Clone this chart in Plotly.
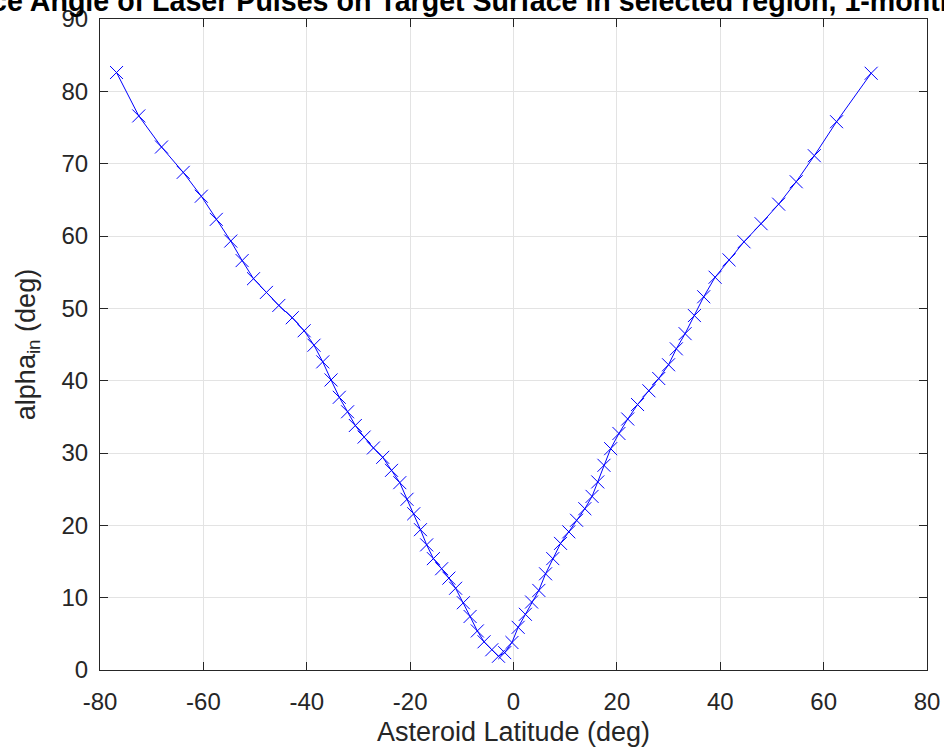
import plotly.graph_objects as go

latitude = [-76.8, -72.5, -68.1, -63.9, -60.4, -57.5, -54.7, -52.5, -50.3, -47.8,
            -45.4, -42.8, -40.5, -38.6, -36.9, -35.3, -33.7, -32.1, -30.6, -28.9,
            -27.1, -25.3, -23.6, -22.0, -20.6, -19.3, -18.0, -16.8, -15.5, -13.9,
            -12.5, -11.2, -9.7, -8.4, -7.0, -5.7, -4.2, -2.9, -1.7, -0.3,
            0.9, 2.3, 3.5, 4.9, 6.2, 7.6, 9.1, 10.7, 12.2, 13.8,
            15.2, 16.3, 17.5, 18.8, 20.4, 22.1, 24.0, 26.2, 28.1, 30.0,
            31.5, 33.2, 35.0, 36.8, 39.0, 41.7, 44.6, 47.9, 51.3, 54.7,
            58.2, 62.5, 69.2]
alpha_in = [82.6, 76.6, 72.3, 68.8, 65.5, 62.3, 59.3, 56.6, 54.1, 52.2,
            50.4, 48.7, 46.9, 44.9, 42.6, 40.1, 37.7, 35.7, 33.8, 32.2,
            30.7, 29.4, 27.6, 25.9, 23.6, 21.6, 19.4, 17.3, 15.4, 14.0,
            12.7, 11.3, 9.3, 7.4, 5.4, 3.9, 2.8, 1.9, 2.4, 3.8,
            5.9, 7.7, 9.4, 11.0, 13.3, 15.4, 17.5, 19.1, 20.7, 22.3,
            24.0, 26.0, 28.3, 30.6, 32.7, 34.7, 36.7, 38.6, 40.3, 42.2,
            44.4, 46.5, 49.0, 51.6, 54.3, 56.7, 59.2, 61.7, 64.4, 67.5,
            71.1, 75.8, 82.5]

x_ticks = [-80, -60, -40, -20, 0, 20, 40, 60, 80]
y_ticks = [0, 10, 20, 30, 40, 50, 60, 70, 80, 90]

title_text = "Incidence Angle of Laser Pulses on Target Surface in selected region, 1-month period"

FONT = "Liberation Sans, Arial, Helvetica, sans-serif"
TXT = "#262626"

fig = go.Figure()
fig.add_trace(go.Scatter(
    x=latitude, y=alpha_in, mode="lines+markers",
    line=dict(color="#0000ff", width=1),
    marker=dict(symbol="x-thin", size=13, color="#0000ff",
                line=dict(color="#0000ff", width=1)),
    showlegend=False,
))

axis_common = dict(
    showgrid=True, gridcolor="#e3e3e3", gridwidth=1,
    showline=True, linecolor=TXT, linewidth=1, mirror="ticks",
    ticks="inside", ticklen=8, tickcolor=TXT, tickwidth=1,
    tickfont=dict(family=FONT, size=24, color=TXT),
    zeroline=False, automargin=False,
)

fig.update_layout(
    width=944, height=749,
    margin=dict(l=100, r=17, t=19, b=79),
    paper_bgcolor="white", plot_bgcolor="white",
    font=dict(family=FONT, color=TXT),
    xaxis=dict(range=[-80, 80], tickvals=x_ticks, ticktext=[str(v) for v in x_ticks],
               title=dict(text="Asteroid Latitude (deg)", font=dict(size=27, family=FONT, color=TXT),
                          standoff=8),
               ticklabelstandoff=10,
               **axis_common),
    yaxis=dict(range=[0, 90], tickvals=y_ticks, ticktext=[str(v) for v in y_ticks],
               title=dict(text="alpha<sub>in</sub> (deg)", font=dict(size=27, family=FONT, color=TXT),
                          standoff=18),
               ticklabelstandoff=6,
               **axis_common),
    annotations=[dict(
        text="<b>" + title_text + "</b>", xref="paper", yref="paper",
        x=-211 / 827, y=1 + 18 / 651, xanchor="left", yanchor="middle",
        showarrow=False, font=dict(family=FONT, size=28.6, color="black"),
    )],
)

fig.write_html("out.html")
